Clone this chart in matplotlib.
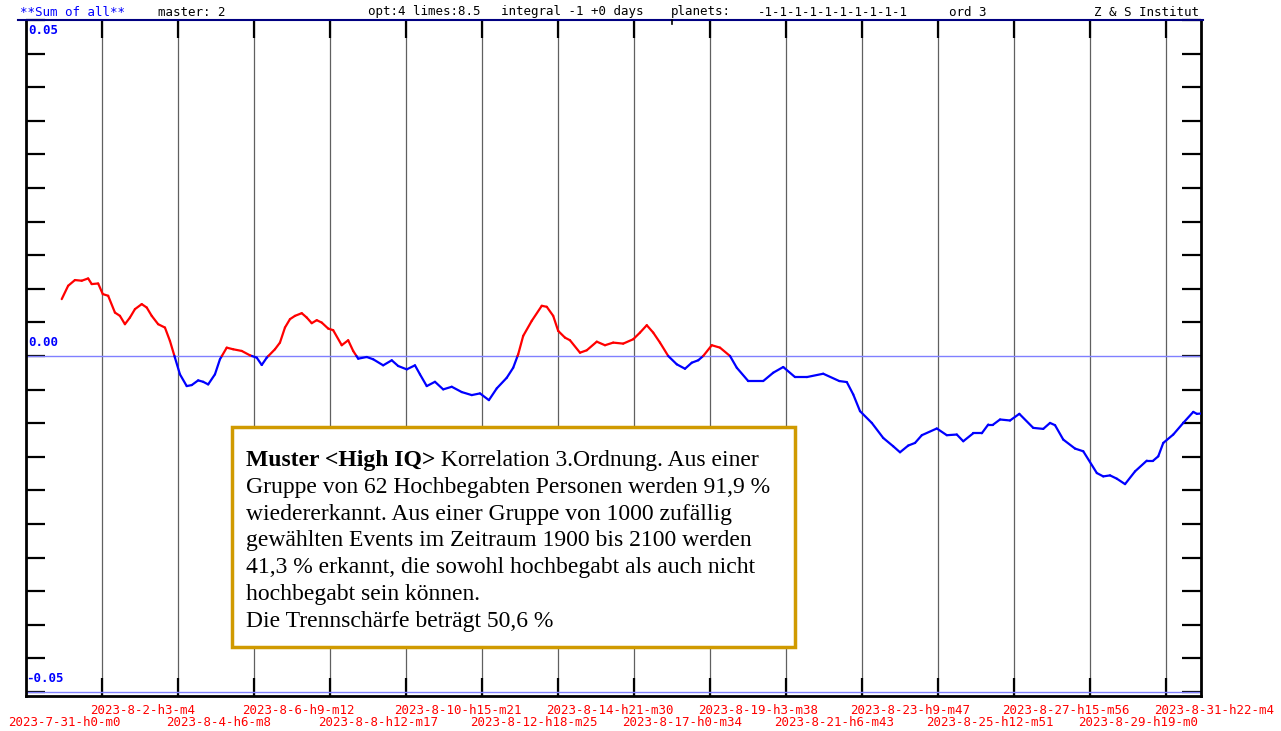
# -*- coding: utf-8 -*-
import numpy as np
import matplotlib
matplotlib.use('Agg')
import matplotlib.pyplot as plt
from matplotlib.collections import LineCollection
from matplotlib.patches import Rectangle
from matplotlib.lines import Line2D

# Kurve: Tage seit 2023-7-31 h0 m0, Wert in 1e-3
days = [1.00, 1.18, 1.37, 1.56, 1.74, 1.84, 2.02, 2.15, 2.30, 2.49, 2.63, 2.77, 2.91, 3.05,
        3.24, 3.38, 3.52, 3.70, 3.89, 4.03, 4.17, 4.31, 4.50, 4.64, 4.82, 4.96, 5.10, 5.29,
        5.43, 5.62, 5.80, 6.04, 6.27, 6.46, 6.60, 6.74, 6.97, 7.11, 7.25, 7.39, 7.53, 7.72,
        7.86, 8.00, 8.14, 8.28, 8.46, 8.60, 8.84, 9.02, 9.16, 9.30, 9.54, 9.72, 10.00, 10.24,
        10.42, 10.66, 10.89, 11.03, 11.22, 11.45, 11.68, 11.92, 12.20, 12.48, 12.71, 12.96,
        13.18, 13.46, 13.64, 13.78, 13.92, 14.16, 14.44, 14.58, 14.76, 14.90, 15.09, 15.23,
        15.51, 15.70, 15.98, 16.21, 16.44, 16.72, 17.00, 17.19, 17.38, 17.56, 17.75, 17.98,
        18.22, 18.45, 18.64, 18.82, 18.96, 19.20, 19.43, 19.71, 19.90, 20.22, 20.64, 20.92,
        21.20, 21.53, 21.86, 22.32, 22.77, 22.98, 23.16, 23.35, 23.68, 24.00, 24.28, 24.47,
        24.70, 24.89, 25.08, 25.50, 25.78, 26.06, 26.24, 26.52, 26.76, 26.94, 27.08, 27.27,
        27.55, 27.81, 28.20, 28.48, 28.67, 28.81, 29.04, 29.37, 29.60, 29.98, 30.16, 30.35,
        30.54, 30.77, 31.05, 31.38, 31.56, 31.70, 31.84, 32.12, 32.40, 32.68, 32.78, 32.90]
werte = [8.46, 10.45, 11.30, 11.20, 11.54, 10.70, 10.79, 9.21, 8.96, 6.46, 5.97, 4.73, 5.72, 6.97,
         7.72, 7.21, 5.97, 4.73, 4.23, 2.24, -0.25, -2.73, -4.48, -4.33, -3.63, -3.84, -4.23, -2.73,
         -0.49, 1.24, 1.00, 0.75, 0.10, -0.25, -1.34, -0.25, 1.00, 1.99, 4.23, 5.48, 5.97, 6.37,
         5.72, 4.88, 5.33, 4.97, 4.08, 3.84, 1.60, 2.34, 0.75, -0.40, -0.15, -0.49, -1.39, -0.64,
         -1.49, -1.99, -1.39, -2.73, -4.48, -3.84, -4.97, -4.58, -5.37, -5.82, -5.57, -6.57,
         -4.82, -3.24, -1.75, 0.25, 2.99, 5.23, 7.47, 7.32, 5.97, 3.73, 2.73, 2.34,
         0.49, 0.85, 2.13, 1.60, 1.99, 1.84, 2.49, 3.48, 4.58, 3.48, 1.99, 0.00,
         -1.24, -1.90, -1.00, -0.64, 0.00, 1.60, 1.24, 0.00, -1.75, -3.73, -3.73, -2.49,
         -1.64, -3.14, -3.14, -2.64, -3.73, -3.88, -5.72, -8.21, -9.96, -12.20, -13.44, -14.33,
         -13.33, -12.94, -11.79, -10.79, -11.79, -11.69, -12.69, -11.50, -11.50, -10.20, -10.20, -9.45,
         -9.60, -8.61, -10.70, -10.85, -9.96, -10.30, -12.44, -13.78, -14.18, -17.42, -17.92, -17.77,
         -18.26, -19.07, -17.17, -15.57, -15.57, -14.93, -12.94, -11.69, -9.96, -8.32, -8.61, -8.56]

tick_schritt = 51.0 + 4.0 / 60.0   # Stunden (2 Tage 3h 4m)
tick_labels = ['2023-7-31-h0-m0', '2023-8-2-h3-m4', '2023-8-4-h6-m8', '2023-8-6-h9-m12',
               '2023-8-8-h12-m17', '2023-8-10-h15-m21', '2023-8-12-h18-m25', '2023-8-14-h21-m30',
               '2023-8-17-h0-m34', '2023-8-19-h3-m38', '2023-8-21-h6-m43', '2023-8-23-h9-m47',
               '2023-8-25-h12-m51', '2023-8-27-h15-m56', '2023-8-29-h19-m0', '2023-8-31-h22-m4']
y_labels = ['0.05', '0.00', '-0.05']

header = [('**Sum of all**', 20, '#0000ff'), ('master: 2', 158, 'black'),
          ('opt:4 limes:8.5', 368, 'black'), ('integral -1 +0 days', 501, 'black'),
          ('planets:', 671, 'black'), ('-1-1-1-1-1-1-1-1-1-1', 758, 'black'),
          ('ord 3', 949, 'black'), ('Z & S Institut', 1094, 'black')]

text_fett = 'Muster <High IQ>'
text_rest = ' Korrelation 3.Ordnung. Aus einer'
text_zeilen = ['Gruppe von 62 Hochbegabten Personen werden 91,9 %',
               'wiedererkannt. Aus einer Gruppe von 1000 zufällig',
               'gewählten Events im Zeitraum 1900 bis 2100 werden',
               '41,3 % erkannt, die sowohl hochbegabt als auch nicht',
               'hochbegabt sein können.',
               'Die Trennschärfe beträgt 50,6 %']

W, H = 1281, 731
fig = plt.figure(figsize=(W / 100, H / 100), dpi=100)
fig.patch.set_facecolor('white')

def fx(px):
    return px / W

def fy(py):
    return 1 - py / H

ax = fig.add_axes([fx(26), fy(696), fx(1201) - fx(26), fy(20) - fy(696)])
xmax = 1175 / 76 * tick_schritt / 24
ax.set_xlim(0, xmax)
ax.set_ylim(-0.0506, 0.05)

x = np.array(days)
y = np.array(werte) / 1000.0

# Segmente nach Vorzeichen einfärben (bei Nulldurchgang aufteilen)
segs, cols = [], []
for i in range(len(x) - 1):
    x0, x1, y0, y1 = x[i], x[i + 1], y[i], y[i + 1]
    if y0 * y1 < 0:
        xc = x0 + (x1 - x0) * (-y0) / (y1 - y0)
        segs.append([(x0, y0), (xc, 0)])
        cols.append('#ff0000' if y0 > 0 else '#0000ff')
        segs.append([(xc, 0), (x1, y1)])
        cols.append('#ff0000' if y1 > 0 else '#0000ff')
    else:
        segs.append([(x0, y0), (x1, y1)])
        cols.append('#ff0000' if (y0 + y1) > 0 else '#0000ff')
lc = LineCollection(segs, colors=cols, linewidths=1.6, capstyle='round', joinstyle='round', zorder=5)
ax.add_collection(lc)

# Gitter
tick_pos = [k * tick_schritt / 24 for k in range(len(tick_labels))]
for tp in tick_pos[1:]:
    ax.axvline(tp, color='#606060', lw=0.9, zorder=1)
ax.axhline(0, color='#8080ff', lw=1.0, zorder=2)
ax.axhline(-0.05, color='#8080ff', lw=1.0, zorder=2)

# Ticks
ax.set_xticks(tick_pos[1:])
ax.set_xticklabels([])
ax.tick_params(axis='x', direction='in', length=13, width=1.6, color='black', top=True, bottom=True)
ax.set_yticks(np.arange(-0.05, 0.0501, 0.005))
ax.set_yticklabels([])
ax.tick_params(axis='y', direction='in', length=14, width=1.6, color='black', left=True, right=True)

for s in ['left', 'right', 'bottom']:
    ax.spines[s].set_linewidth(2)
    ax.spines[s].set_color('black')
ax.spines['top'].set_visible(False)

mono = 'DejaVu Sans Mono'
fs_mono = 9

# Y-Beschriftung (Pixelpositionen wie im Original)
for lab, (px, py) in zip(y_labels, [(28, 31), (28, 342), (26, 678)]):
    fig.text(fx(px), fy(py), lab, color='#0000ff', family=mono, fontsize=fs_mono,
             fontweight='bold', ha='left', va='center', zorder=6)

# X-Beschriftung in zwei Reihen
px_per_day = 76 / (tick_schritt / 24)
for k, (tp, lab) in enumerate(zip(tick_pos, tick_labels)):
    px = 26 + tp * px_per_day - 12
    if k == 0:
        px = 8
    row_y = 710 if k % 2 == 1 else 722
    fig.text(fx(px), fy(row_y), lab, color='#ff0000', family=mono, fontsize=fs_mono,
             ha='left', va='center')

# Kopfzeile
for txt, px, c in header:
    fig.text(fx(px), fy(12), txt, color=c, family=mono, fontsize=fs_mono, ha='left', va='center')
fig.add_artist(Line2D([fx(18), fx(1203)], [fy(20), fy(20)], color='#000080', lw=1.5))
fig.add_artist(Line2D([fx(672), fx(672)], [fy(20), fy(24)], color='black', lw=1.2))

# Textkasten
box = Rectangle((fx(232), fy(647)), fx(795) - fx(232), fy(427) - fy(647), transform=fig.transFigure,
                facecolor='white', edgecolor='#d09a00', lw=2.5, zorder=10)
fig.add_artist(box)
serif = 'Liberation Serif'
fs = 17
t1 = fig.text(fx(246), fy(466), text_fett, family=serif, fontsize=fs, fontweight='bold',
              ha='left', va='baseline', zorder=11)
fig.canvas.draw()
bb = t1.get_window_extent()
fig.text(bb.x1 / W, fy(466), text_rest, family=serif, fontsize=fs, ha='left', va='baseline', zorder=11)
for i, zeile in enumerate(text_zeilen):
    fig.text(fx(246), fy(466 + 26.8 * (i + 1)), zeile, family=serif, fontsize=fs,
             ha='left', va='baseline', zorder=11)

fig.savefig('out.png', dpi=100)
